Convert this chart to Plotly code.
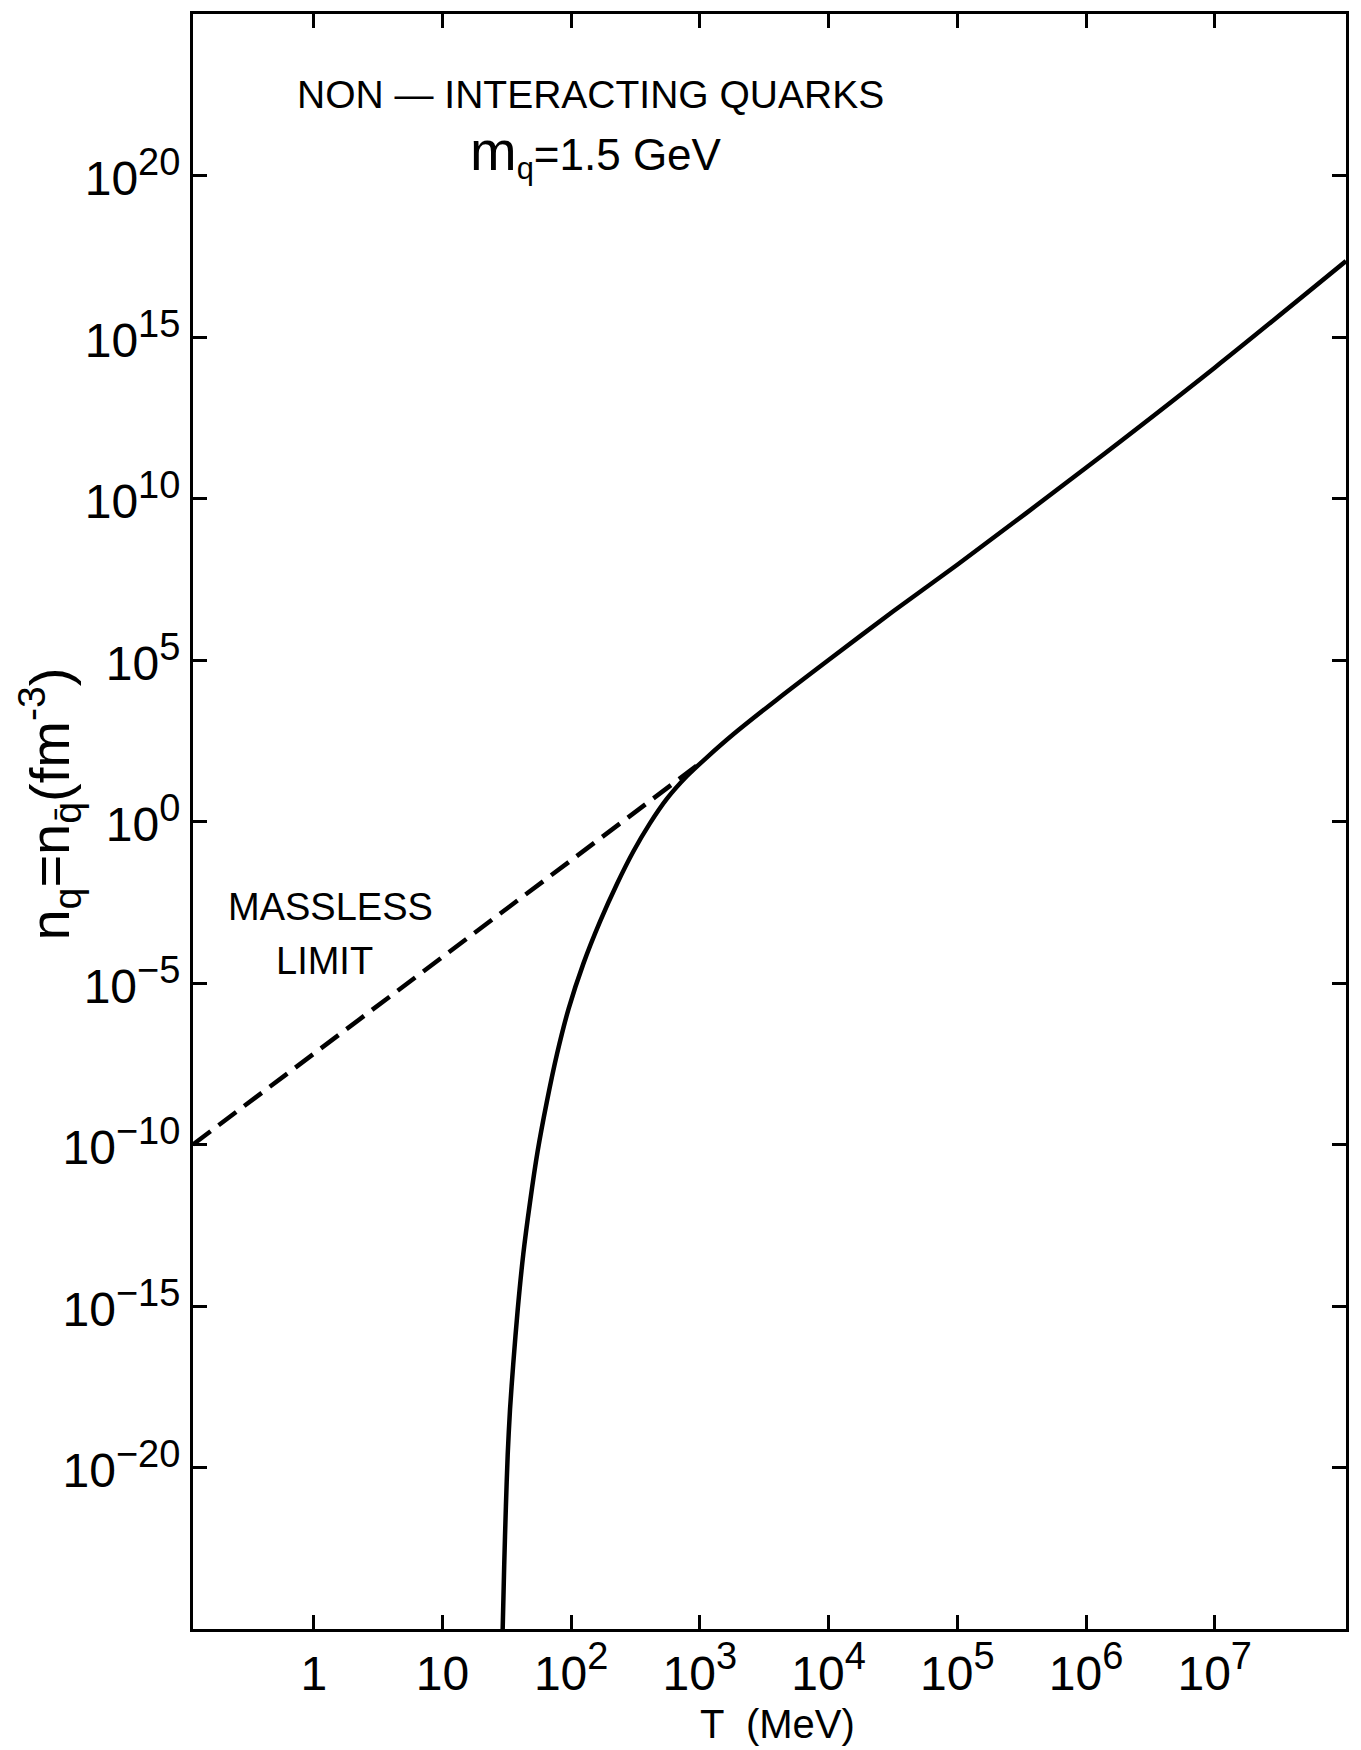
import plotly.graph_objects as go

# ---- data (exponents of ten) ----
solid_log_T = [1.468, 1.480, 1.493, 1.507, 1.525, 1.550, 1.585, 1.628, 1.680, 1.740,
               1.810, 1.890, 1.980, 2.095, 2.224, 2.354, 2.483, 2.613, 2.743, 2.898,
               3.053, 3.260, 3.600, 4.000, 4.500, 5.000, 6.000, 7.000, 8.020]
solid_log_n = [-25.0, -23.0, -21.2, -19.6, -18.2, -16.8, -15.1, -13.4, -11.8, -10.2,
               -8.7, -7.2, -5.8, -4.4, -3.1, -1.95, -0.93, -0.05, 0.70, 1.40,
               1.98, 2.70, 3.78, 5.00, 6.50, 7.95, 10.95, 14.05, 17.35]

dashed_log_T = [-0.938, 0.0, 1.0, 2.0, 3.0]
dashed_log_n = [-10.0, -7.2, -4.2, -1.2, 1.8]

x_tick_vals = [1, 10, 1e2, 1e3, 1e4, 1e5, 1e6, 1e7]
x_tick_base = ["1", "10", "10", "10", "10", "10", "10", "10"]
x_tick_exp = ["", "", "2", "3", "4", "5", "6", "7"]
y_tick_vals = [1e20, 1e15, 1e10, 1e5, 1e0, 1e-5, 1e-10, 1e-15, 1e-20]
y_tick_exp = ["20", "15", "10", "5", "0", "\u22125", "\u221210", "\u221215", "\u221220"]

solid_T = [10 ** v for v in solid_log_T]
solid_n = [10 ** v for v in solid_log_n]
dashed_T = [10 ** v for v in dashed_log_T]
dashed_n = [10 ** v for v in dashed_log_n]

FONT = "Liberation Sans, Arial, sans-serif"
SUP = "<sup><span style='font-size:38px'>{}</span></sup>"


def label(base, exp):
    return base + (SUP.format(exp) if exp else "")


x_tick_text = [label(b, e) for b, e in zip(x_tick_base, x_tick_exp)]
y_tick_text = [label("10", e) for e in y_tick_exp]

fig = go.Figure()
fig.add_trace(go.Scatter(x=dashed_T, y=dashed_n, mode="lines",
                         line=dict(color="black", width=4.5, dash="22px,10px"),
                         showlegend=False, hoverinfo="skip"))
fig.add_trace(go.Scatter(x=solid_T, y=solid_n, mode="lines",
                         line=dict(color="black", width=4.5, shape="spline", smoothing=0.8),
                         showlegend=False, hoverinfo="skip"))

axis_common = dict(showline=True, linecolor="black", linewidth=3, mirror="ticks",
                   ticks="inside", ticklen=14, tickwidth=2.5, tickcolor="black",
                   showgrid=False, zeroline=False,
                   tickfont=dict(family=FONT, size=48, color="black"))

fig.update_xaxes(type="log", range=[-0.938, 8.02], tickvals=x_tick_vals,
                 ticktext=x_tick_text, **axis_common)
fig.update_yaxes(type="log", range=[-25, 25], tickvals=y_tick_vals,
                 ticktext=y_tick_text, ticklabelshift=3, **axis_common)

# figure geometry (page has an 8px body margin)
W, H = 1353, 1742
L, R, T, B = 185, 15, 3, 121
PW, PH = W - L - R, H - T - B


def px(x, y):
    return (x - L) / PW, 1 - (y - T) / PH


annotations = []
ax, ay = px(582, 84)
annotations.append(dict(text="NON \u2014 INTERACTING QUARKS", x=ax, y=ay,
                        font=dict(family=FONT, size=39, color="black")))
ax, ay = px(588, 142)
annotations.append(dict(text="<span style='font-size:56px'>m</span><sub>q</sub>=1.5 GeV",
                        x=ax, y=ay, font=dict(family=FONT, size=44, color="black")))
ax, ay = px(322, 898)
annotations.append(dict(text="MASSLESS", x=ax, y=ay,
                        font=dict(family=FONT, size=38, color="black")))
ax, ay = px(316, 952)
annotations.append(dict(text="LIMIT", x=ax, y=ay,
                        font=dict(family=FONT, size=38, color="black")))
ax, ay = px(769, 1716)
annotations.append(dict(text="T  (MeV)", x=ax, y=ay,
                        font=dict(family=FONT, size=40, color="black")))
ax, ay = px(41, 795)
annotations.append(dict(text="n<sub>q</sub>=n<sub>q\u0304</sub>(fm<sup>-3</sup>)",
                        x=ax, y=ay, textangle=-90,
                        font=dict(family=FONT, size=56, color="black")))

for a in annotations:
    a.update(xref="paper", yref="paper", showarrow=False,
             xanchor="center", yanchor="middle")

fig.update_layout(width=W, height=H, margin=dict(l=L, r=R, t=T, b=B),
                  paper_bgcolor="white", plot_bgcolor="white",
                  annotations=annotations, showlegend=False)

fig.write_html("out.html")
